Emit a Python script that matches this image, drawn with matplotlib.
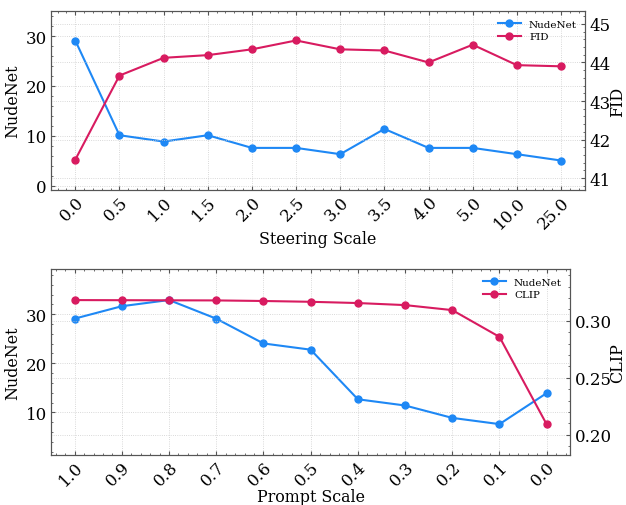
import matplotlib
matplotlib.use("Agg")
import matplotlib.pyplot as plt
from matplotlib.ticker import AutoMinorLocator

BLUE = "#1E88F5"
RED = "#D81B60"
SPINE = "#555555"

steer_labels = ["0.0", "0.5", "1.0", "1.5", "2.0", "2.5", "3.0", "3.5",
                "4.0", "5.0", "10.0", "25.0"]
steer_nudenet = [29.11, 10.13, 8.86, 10.13, 7.59, 7.59, 6.33, 11.39,
                 7.59, 7.59, 6.33, 5.06]
steer_fid = [41.48, 43.66, 44.12, 44.19, 44.34, 44.57, 44.34, 44.31,
             44.00, 44.46, 43.93, 43.90]

prompt_labels = ["1.0", "0.9", "0.8", "0.7", "0.6", "0.5", "0.4", "0.3",
                 "0.2", "0.1", "0.0"]
prompt_nudenet = [29.11, 31.65, 32.91, 29.11, 24.05, 22.78, 12.66, 11.39,
                  8.86, 7.59, 13.92]
prompt_clip = [0.3182, 0.3181, 0.3180, 0.3179, 0.3174, 0.3167, 0.3156,
               0.3138, 0.3094, 0.2859, 0.2091]

plt.rcParams.update({
    "font.family": "DejaVu Serif",
    "font.size": 12,
    "axes.labelsize": 11.4,
    "xtick.direction": "in",
    "ytick.direction": "in",
    "xtick.top": True,
    "xtick.major.size": 3,
    "ytick.major.size": 3,
    "xtick.minor.size": 1.5,
    "ytick.minor.size": 1.5,
    "xtick.major.pad": 2.5,
    "ytick.major.pad": 3,
    "xtick.color": SPINE,
    "ytick.color": SPINE,
    "xtick.labelcolor": "black",
    "ytick.labelcolor": "black",
    "axes.edgecolor": SPINE,
    "axes.linewidth": 0.8,
})


def style(ax):
    ax.yaxis.set_minor_locator(AutoMinorLocator())
    ax.xaxis.set_minor_locator(AutoMinorLocator())
    ax.tick_params(which="both", top=True, right=False)


def panel(fig, rect, labels, left_vals, right_vals, right_name, xlabel,
          ylim_l, ylim_r, xlim, yticks_l, yticks_r):
    ax = fig.add_axes(rect)
    x = list(range(len(labels)))
    ax.grid(True, color="#cccccc", ls=":", lw=0.6)
    l1, = ax.plot(x, left_vals, color=BLUE, marker="o", ms=5, lw=1.5,
                  label="NudeNet")
    ax.set_xlim(*xlim)
    ax.set_ylim(*ylim_l)
    ax.set_yticks(yticks_l)
    ax.set_xticks(x)
    ax.set_xticklabels(labels, rotation=45, ha="right", rotation_mode="anchor")
    ax.set_ylabel("NudeNet", labelpad=3)
    ax.set_xlabel(xlabel, labelpad=-1)
    style(ax)
    ax2 = ax.twinx()
    l2, = ax2.plot(x, right_vals, color=RED, marker="o", ms=5, lw=1.5,
                   label=right_name)
    ax2.set_ylim(*ylim_r)
    ax2.set_yticks(yticks_r)
    ax2.set_ylabel(right_name, labelpad=-1.5)
    ax2.yaxis.set_minor_locator(AutoMinorLocator())
    ax2.tick_params(which="both", left=False, right=True)
    ax2.grid(True, axis="y", color="#cccccc", ls=":", lw=0.6)
    ax2.legend([l1, l2], ["NudeNet", right_name], loc="upper right",
               frameon=False, fontsize=7.5, handlelength=2.2,
               borderaxespad=0.4, labelspacing=0.3)
    return ax, ax2


fig = plt.figure(figsize=(6.26, 5.06), dpi=100)

panel(fig, [0.0815, 0.623, 0.8535, 0.353], steer_labels, steer_nudenet,
      steer_fid, "FID", "Steering Scale", (-0.8, 35.0), (40.70, 45.33),
      (-0.55, 11.55), [0, 10, 20, 30], [41, 42, 43, 44, 45])

ax, ax2 = panel(fig, [0.0815, 0.0994, 0.8295, 0.3666], prompt_labels,
                prompt_nudenet, prompt_clip, "CLIP", "Prompt Scale",
                (1.35, 39.2), (0.1825, 0.3453), (-0.5, 10.5),
                [10, 20, 30], [0.20, 0.25, 0.30])
ax2.set_yticklabels(["0.20", "0.25", "0.30"])

fig.savefig("out.png", dpi=100)
